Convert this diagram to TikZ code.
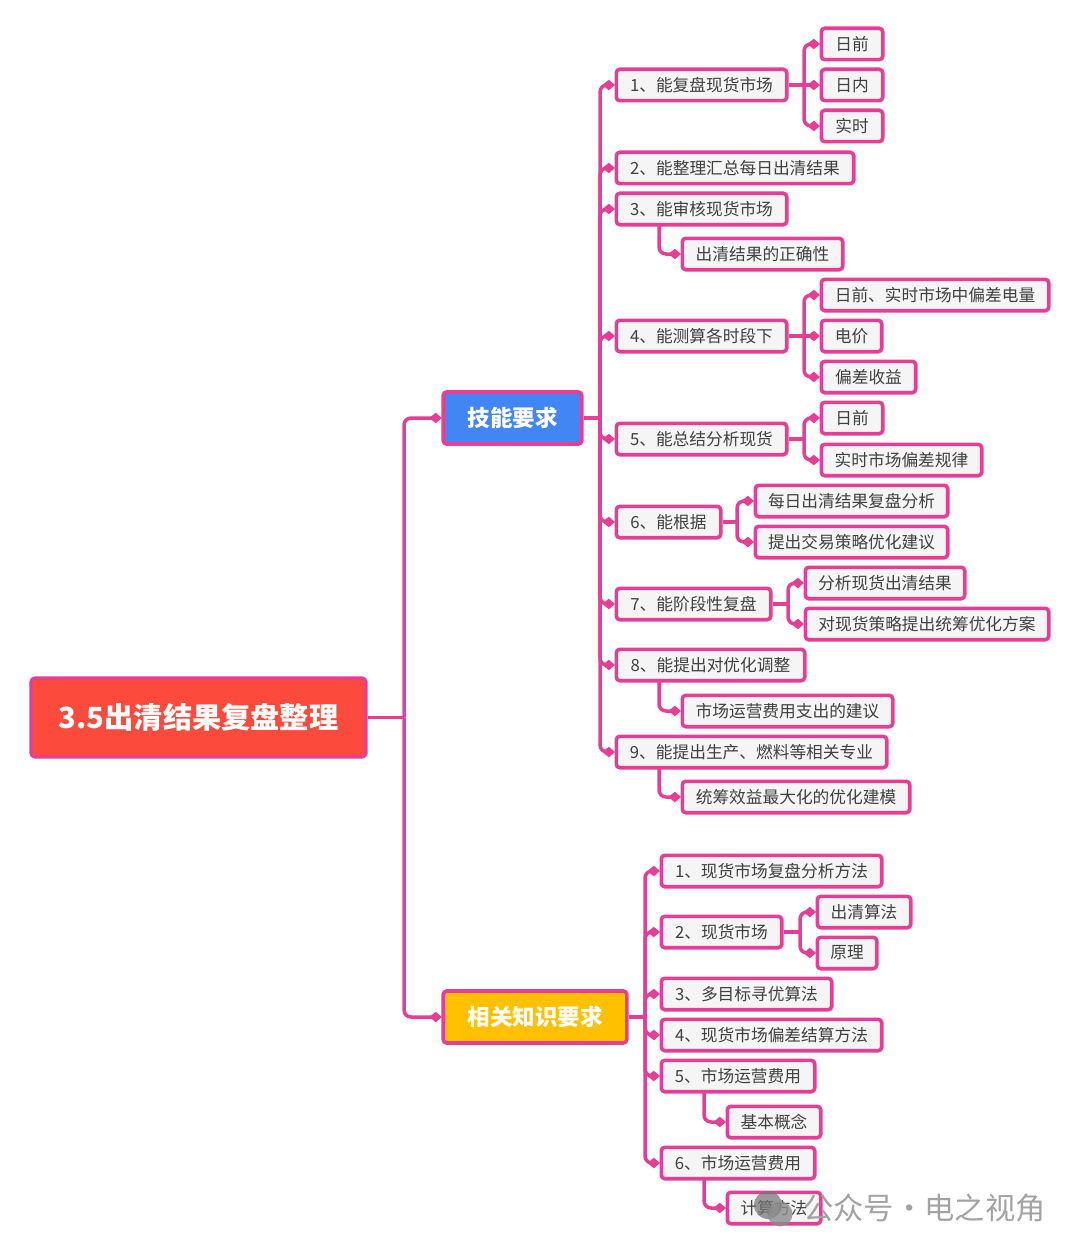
\documentclass[tikz,border=0pt]{standalone}
\usepackage{fontspec}
\setmainfont{Noto Sans CJK SC}
\usetikzlibrary{arrows.meta,calc}
\definecolor{pinkline}{HTML}{E63E95}
\definecolor{boxfill}{HTML}{F5F5F5}
\definecolor{txt}{HTML}{404040}
\definecolor{rootred}{HTML}{FC4A3C}
\definecolor{topblue}{HTML}{4285F4}
\definecolor{topyellow}{HTML}{FFC000}
\tikzset{
  leafbox/.style={draw=pinkline,line width=3.6pt,fill=boxfill,rounded corners=3.5pt,text=txt,inner sep=0pt,
    font=\fontsize{16.7}{20}\selectfont},
  topbox/.style={draw=pinkline,line width=3.6pt,rounded corners=3.5pt,text=white,inner sep=0pt,
    font=\fontsize{22.5}{26}\selectfont\bfseries},
  rootbox/.style={draw=pinkline,line width=3.2pt,rounded corners=4pt,fill=rootred,text=white,inner sep=0pt,
    font=\fontsize{29.2}{34}\selectfont\bfseries},
  wireline/.style={draw=pinkline,line width=3.5pt},
  elbowline/.style={wireline,rounded corners=7pt,-{Diamond[length=12.5pt,width=10.5pt,fill=pinkline]},shorten >=-0.5pt},
  wmarktext/.style={text=black!36,font=\fontsize{30.3}{34}\selectfont},
}
% name, left, right, centre y, text
\newcommand{\bx}[5]{\node[leafbox,minimum width={#3-#2-2.6},minimum height=31.4pt] (#1) at ({(#2+#3)/2},#4) {#5};}
\newcommand{\fan}[2]{\foreach \kid in {#2} {\draw[elbowline] (#1) |- (\kid.west);}}
\newcommand{\direct}[2]{\draw[wireline,-{Diamond[length=12.5pt,width=10.5pt,fill=pinkline]},shorten >=-0.5pt] (#1) -- (#2.west);}
\begin{document}
\begin{tikzpicture}[x=1pt,y=-1pt]
\useasboundingbox (0,0) rectangle (1080,1252);
% root and main branches
\node[rootbox,minimum width=335pt,minimum height=79pt] (root) at (198.5,717.5) {\raisebox{-1pt}{3.5出清结果复盘整理}};
\node[topbox,fill=topblue,minimum width=138.6pt,minimum height=52pt] (skill) at (512.5,418) {\raisebox{-1pt}{技能要求}};
\node[topbox,fill=topyellow,minimum width=183.6pt,minimum height=52pt] (know) at (535,1017) {\raisebox{-1pt}{相关知识要求}};
% skills
\bx{s1}{615}{788}{85}{1、能复盘现货市场}
\bx{s1a}{820}{884}{44}{日前}
\bx{s1b}{820}{884}{85}{日内}
\bx{s1c}{820}{884}{126}{实时}
\bx{s2}{615}{855}{168}{2、能整理汇总每日出清结果}
\bx{s3}{615}{788}{209}{3、能审核现货市场}
\bx{s3a}{681}{844}{254}{出清结果的正确性}
\bx{s4}{615}{788}{336}{4、能测算各时段下}
\bx{s4a}{820}{1050}{295}{日前、实时市场中偏差电量}
\bx{s4b}{820}{883}{336}{电价}
\bx{s4c}{820}{917}{377}{偏差收益}
\bx{s5}{615}{788}{439}{5、能总结分析现货}
\bx{s5a}{820}{884}{418}{日前}
\bx{s5b}{820}{983}{460}{实时市场偏差规律}
\bx{s6}{615}{722}{522}{6、能根据}
\bx{s6a}{754}{949}{501}{每日出清结果复盘分析}
\bx{s6b}{754}{949}{542}{提出交易策略优化建议}
\bx{s7}{615}{772}{604}{7、能阶段性复盘}
\bx{s7a}{804}{966}{583}{分析现货出清结果}
\bx{s7b}{804}{1050}{624}{对现货策略提出统筹优化方案}
\bx{s8}{615}{806}{665}{8、能提出对优化调整}
\bx{s8a}{681}{894}{711}{市场运营费用支出的建议}
\bx{s9}{615}{888}{752}{9、能提出生产、燃料等相关专业}
\bx{s9a}{681}{911}{797}{统筹效益最大化的优化建模}
% knowledge
\bx{k1}{660}{883}{871}{1、现货市场复盘分析方法}
\bx{k2}{660}{783}{932}{2、现货市场}
\bx{k2a}{816}{912}{912}{出清算法}
\bx{k2b}{816}{878}{953}{原理}
\bx{k3}{660}{833}{994}{3、多目标寻优算法}
\bx{k4}{660}{883}{1035}{4、现货市场偏差结算方法}
\bx{k5}{660}{816}{1076}{5、市场运营费用}
\bx{k5a}{726}{822}{1122}{基本概念}
\bx{k6}{660}{816}{1163}{6、市场运营费用}
\bx{k6a}{726}{822}{1208}{计算方法}
% junction points
\coordinate (jroot) at (404,717.5);
\coordinate (jskill) at (600,418);
\coordinate (jknow) at (645,1017);
\coordinate (js1) at (804,85);
\coordinate (js4) at (804,336);
\coordinate (js5) at (804,439);
\coordinate (js6) at (737,522);
\coordinate (js7) at (788,604);
\coordinate (jk2) at (800,932);
\coordinate (ds3) at (659,226);
\coordinate (ds8) at (659,682);
\coordinate (ds9) at (659,769);
\coordinate (dk5) at (704,1093);
\coordinate (dk6) at (704,1180);
% connectors
\draw[wireline,line width=3pt] (root.east) -- (jroot);
\fan{jroot}{skill,know}
\draw[wireline] (skill.east) -- (jskill);
\fan{jskill}{s1,s2,s3,s4,s5,s6,s7,s8,s9}
\draw[wireline] (know.east) -- (jknow);
\fan{jknow}{k1,k2,k3,k4,k5,k6}
\draw[wireline] (s1.east) -- (js1);
\fan{js1}{s1a,s1c}
\direct{js1}{s1b}
\draw[wireline] (s4.east) -- (js4);
\fan{js4}{s4a,s4c}
\direct{js4}{s4b}
\draw[wireline] (s5.east) -- (js5);
\fan{js5}{s5a,s5b}
\draw[wireline] (s6.east) -- (js6);
\fan{js6}{s6a,s6b}
\draw[wireline] (s7.east) -- (js7);
\fan{js7}{s7a,s7b}
\draw[wireline] (k2.east) -- (jk2);
\fan{jk2}{k2a,k2b}
\fan{ds3}{s3a}
\fan{ds8}{s8a}
\fan{ds9}{s9a}
\fan{dk5}{k5a}
\fan{dk6}{k6a}
% watermark
\fill[black!55,opacity=.7] (768,1205) circle (14);
\fill[black!45,opacity=.8] (780,1214) circle (12.5);
\node[wmarktext,anchor=west,inner sep=0pt] (wm) at (803,1208) {公众号·电之视角};
\end{tikzpicture}
\end{document}
